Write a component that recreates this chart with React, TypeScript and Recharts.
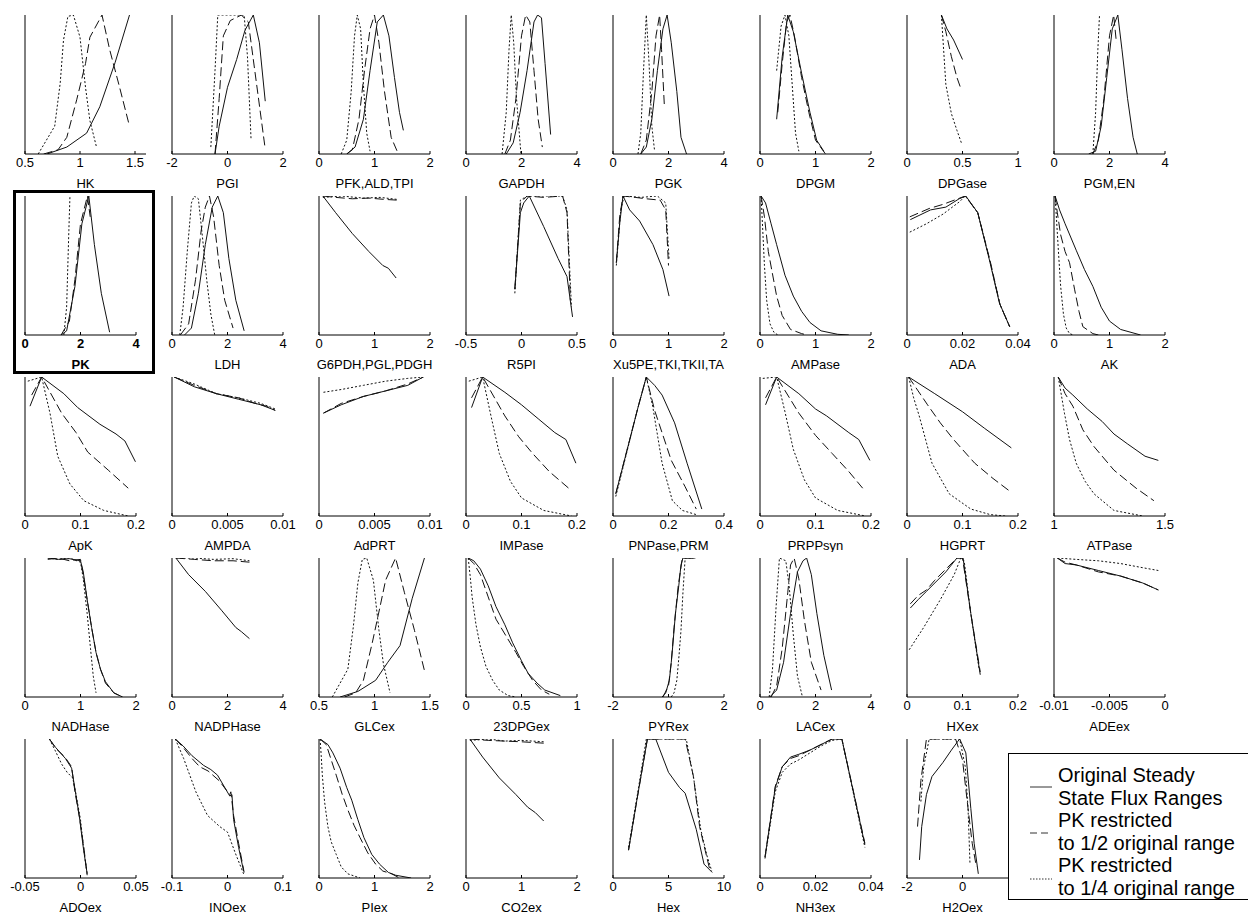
import React from "react";
import { LineChart, Line, XAxis, YAxis } from "recharts";

type Pt = [number, number];

// 39 flux panels, read row by row (8 per row)
const panelNames = [
  "HK", "PGI", "PFK,ALD,TPI", "GAPDH", "PGK", "DPGM", "DPGase", "PGM,EN",
  "PK", "LDH", "G6PDH,PGL,PDGH", "R5PI", "Xu5PE,TKI,TKII,TA", "AMPase", "ADA", "AK",
  "ApK", "AMPDA", "AdPRT", "IMPase", "PNPase,PRM", "PRPPsyn", "HGPRT", "ATPase",
  "NADHase", "NADPHase", "GLCex", "23DPGex", "PYRex", "LACex", "HXex", "ADEex",
  "ADOex", "INOex", "PIex", "CO2ex", "Hex", "NH3ex", "H2Oex",
];

const xDomains: [number, number][] = [
  [0.5, 1.6], [-2, 2], [0, 2], [0, 4], [0, 4], [0, 2], [0, 1], [0, 4],
  [0, 4], [0, 4], [0, 2], [-0.5, 0.5], [0, 2], [0, 2], [0, 0.04], [0, 2],
  [0, 0.2], [0, 0.01], [0, 0.01], [0, 0.2], [0, 0.4], [0, 0.2], [0, 0.2], [1, 1.5],
  [0, 2], [0, 4], [0.5, 1.5], [0, 1], [-2, 2], [0, 4], [0, 0.2], [-0.01, 0],
  [-0.05, 0.05], [-0.1, 0.1], [0, 2], [0, 2], [0, 10], [0, 0.04], [-2, 2],
];

const xTicks: number[][] = [
  [0.5, 1, 1.5], [-2, 0, 2], [0, 1, 2], [0, 2, 4], [0, 2, 4], [0, 1, 2], [0, 0.5, 1], [0, 2, 4],
  [0, 2, 4], [0, 2, 4], [0, 1, 2], [-0.5, 0, 0.5], [0, 1, 2], [0, 1, 2], [0, 0.02, 0.04], [0, 1, 2],
  [0, 0.1, 0.2], [0, 0.005, 0.01], [0, 0.005, 0.01], [0, 0.1, 0.2], [0, 0.2, 0.4], [0, 0.1, 0.2], [0, 0.1, 0.2], [1, 1.5],
  [0, 1, 2], [0, 2, 4], [0.5, 1, 1.5], [0, 0.5, 1], [-2, 0, 2], [0, 2, 4], [0, 0.1, 0.2], [-0.01, -0.005, 0],
  [-0.05, 0, 0.05], [-0.1, 0, 0.1], [0, 1, 2], [0, 1, 2], [0, 5, 10], [0, 0.02, 0.04], [-2, 0, 2],
];

// original steady state flux ranges
const solidLines: Pt[][] = [
  [[0.7, 0], [0.88, 0.05], [1.06, 0.15], [1.18, 0.34], [1.32, 0.66], [1.45, 1]],
  [[-0.45, 0], [-0.3, 0.2], [0, 0.48], [0.33, 0.68], [0.63, 0.89], [0.93, 1], [1.15, 0.8], [1.36, 0.38]],
  [[0.5, 0], [0.65, 0.05], [0.8, 0.25], [0.92, 0.6], [1.05, 0.95], [1.16, 1], [1.26, 0.85], [1.36, 0.55], [1.45, 0.3], [1.52, 0.17]],
  [[1.45, 0], [1.7, 0.08], [1.95, 0.3], [2.2, 0.6], [2.45, 0.95], [2.58, 1], [2.72, 0.98], [2.85, 0.65], [3.05, 0.14]],
  [[1.0, 0], [1.2, 0.05], [1.4, 0.25], [1.6, 0.6], [1.8, 0.9], [1.95, 1], [2.1, 0.8], [2.3, 0.45], [2.45, 0.12], [2.65, 0]],
  [[0.3, 0.25], [0.4, 0.7], [0.5, 1], [0.6, 0.88], [0.75, 0.58], [0.9, 0.3], [1.02, 0.1], [1.15, 0.02]],
  [[0.31, 1], [0.36, 0.9], [0.42, 0.82], [0.5, 0.68]],
  [[1.25, 0], [1.5, 0.02], [1.7, 0.2], [1.9, 0.55], [2.1, 0.9], [2.3, 1], [2.45, 0.75], [2.65, 0.4], [2.85, 0.12], [3.0, 0]],
  [[1.3, 0], [1.5, 0.03], [1.8, 0.35], [2.05, 0.8], [2.3, 1], [2.5, 0.65], [2.75, 0.3], [3.05, 0.02]],
  [[0.45, 0], [0.7, 0.05], [0.95, 0.3], [1.2, 0.65], [1.45, 0.92], [1.65, 1], [1.85, 0.88], [2.05, 0.55], [2.3, 0.25], [2.6, 0.03]],
  [[0.07, 1], [0.3, 0.88], [0.6, 0.73], [0.9, 0.6], [1.15, 0.5], [1.25, 0.48], [1.39, 0.41]],
  [[-0.06, 0.33], [-0.01, 0.88], [0.02, 0.95], [0.07, 1], [0.2, 0.78], [0.33, 0.55], [0.41, 0.42], [0.46, 0.13]],
  [[0.06, 0.52], [0.12, 0.8], [0.18, 1], [0.3, 0.9], [0.48, 0.82], [0.72, 0.65], [0.9, 0.47], [1.01, 0.28]],
  [[0.02, 1], [0.1, 0.95], [0.2, 0.8], [0.3, 0.65], [0.45, 0.43], [0.6, 0.28], [0.75, 0.17], [0.9, 0.09], [1.1, 0.03], [1.4, 0.005], [1.6, 0]],
  [[0.0012, 0.83], [0.0085, 0.9], [0.014, 0.92], [0.0188, 0.98], [0.0212, 1], [0.0255, 0.88], [0.0297, 0.54], [0.0333, 0.23], [0.037, 0.06]],
  [[0.02, 1], [0.1, 0.9], [0.2, 0.8], [0.4, 0.61], [0.55, 0.47], [0.7, 0.35], [0.85, 0.2], [1.0, 0.1], [1.2, 0.04], [1.56, 0]],
  [[0.009, 0.79], [0.03, 1], [0.07, 0.88], [0.095, 0.78], [0.135, 0.66], [0.164, 0.59], [0.18, 0.54], [0.199, 0.39]],
  [[0.0002, 1], [0.002, 0.93], [0.004, 0.88], [0.006, 0.84], [0.008, 0.8], [0.0093, 0.76]],
  [[0.0004, 0.74], [0.002, 0.8], [0.004, 0.86], [0.006, 0.9], [0.008, 0.94], [0.0094, 1]],
  [[0.01, 0.78], [0.03, 1], [0.07, 0.89], [0.1, 0.8], [0.13, 0.7], [0.16, 0.6], [0.18, 0.55], [0.198, 0.38]],
  [[0.01, 0.16], [0.05, 0.47], [0.09, 0.78], [0.12, 1], [0.15, 0.94], [0.177, 0.87], [0.222, 0.67], [0.267, 0.38], [0.32, 0.05]],
  [[0.01, 0.8], [0.03, 1], [0.07, 0.88], [0.1, 0.77], [0.12, 0.72], [0.16, 0.6], [0.178, 0.55], [0.198, 0.4]],
  [[0.003, 1], [0.05, 0.88], [0.1, 0.75], [0.14, 0.63], [0.188, 0.49]],
  [[1.019, 1], [1.05, 0.92], [1.085, 0.87], [1.15, 0.77], [1.217, 0.68], [1.27, 0.59], [1.33, 0.52], [1.41, 0.43], [1.47, 0.4]],
  [[0.41, 1], [0.6, 0.99], [0.8, 0.995], [1.0, 0.98], [1.05, 0.9], [1.12, 0.7], [1.2, 0.5], [1.28, 0.32], [1.36, 0.2], [1.45, 0.11], [1.6, 0.03], [1.76, 0]],
  [[0.14, 1], [0.6, 0.88], [1.2, 0.76], [1.8, 0.62], [2.3, 0.5], [2.5, 0.47], [2.79, 0.42]],
  [[0.69, 0], [0.85, 0.04], [1.01, 0.12], [1.12, 0.25], [1.23, 0.37], [1.34, 0.71], [1.45, 1]],
  [[0.02, 1], [0.07, 0.98], [0.13, 0.92], [0.2, 0.8], [0.27, 0.65], [0.35, 0.52], [0.42, 0.39], [0.5, 0.26], [0.56, 0.17], [0.64, 0.1], [0.71, 0.05], [0.85, 0.01]],
  [[-0.23, 0], [-0.1, 0.03], [0.03, 0.12], [0.1, 0.25], [0.15, 0.36], [0.25, 0.6], [0.37, 0.8], [0.45, 0.95], [0.52, 1], [0.97, 1]],
  [[0.35, 0], [0.6, 0.05], [0.85, 0.25], [1.1, 0.6], [1.35, 0.9], [1.55, 0.98], [1.68, 1], [1.85, 0.88], [2.05, 0.6], [2.3, 0.3], [2.58, 0.05]],
  [[0.006, 0.64], [0.02, 0.7], [0.035, 0.76], [0.05, 0.82], [0.07, 0.9], [0.09, 1], [0.101, 1], [0.115, 0.6], [0.132, 0.16]],
  [[-0.0097, 1], [-0.009, 0.96], [-0.008, 0.95], [-0.006, 0.91], [-0.004, 0.87], [-0.002, 0.82], [-0.0006, 0.77]],
  [[-0.028, 1], [-0.0225, 0.94], [-0.0136, 0.86], [-0.008, 0.79], [-0.0046, 0.62], [-0.001, 0.44], [0.0025, 0.22], [0.006, 0.03]],
  [[-0.094, 1], [-0.08, 0.95], [-0.064, 0.88], [-0.043, 0.81], [-0.03, 0.78], [-0.018, 0.74], [0.004, 0.59], [0.008, 0.6], [0.011, 0.42], [0.02, 0.22], [0.029, 0.05]],
  [[0.02, 1], [0.16, 0.96], [0.25, 0.9], [0.38, 0.79], [0.5, 0.65], [0.59, 0.56], [0.7, 0.42], [0.81, 0.29], [0.95, 0.17], [1.09, 0.1], [1.25, 0.04], [1.38, 0.02], [1.66, 0]],
  [[0.07, 1], [0.3, 0.87], [0.6, 0.72], [0.9, 0.6], [1.11, 0.51], [1.25, 0.47], [1.4, 0.41]],
  [[1.4, 0.2], [2.15, 0.56], [3.1, 1], [3.85, 1], [5.0, 0.76], [6.0, 0.65], [6.5, 0.61], [7.5, 0.35], [8.2, 0.1], [8.94, 0.04]],
  [[0.0018, 0.15], [0.0055, 0.65], [0.008, 0.8], [0.011, 0.87], [0.014, 0.89], [0.018, 0.92], [0.022, 0.96], [0.026, 1], [0.0295, 1], [0.0378, 0.24]],
  [[-1.55, 0.13], [-1.47, 0.37], [-1.3, 0.6], [-1.1, 0.73], [-0.71, 0.83], [-0.4, 0.92], [-0.18, 0.98], [-0.1, 1], [0.12, 0.9], [0.3, 0.5], [0.42, 0.25], [0.57, 0.03]],
];

// PK restricted to 1/2 original range
const dashedLines: Pt[][] = [
  [[0.67, 0], [0.8, 0.03], [0.88, 0.12], [0.97, 0.39], [1.05, 0.65], [1.09, 0.84], [1.2, 1], [1.27, 0.75], [1.36, 0.48], [1.45, 0.2]],
  [[-0.45, 0], [-0.3, 0.4], [-0.15, 0.85], [0.1, 0.96], [0.5, 1], [0.75, 0.95], [1.05, 0.5], [1.35, 0.05]],
  [[0.5, 0], [0.6, 0.03], [0.72, 0.25], [0.82, 0.6], [0.92, 0.9], [1.0, 1], [1.08, 0.8], [1.18, 0.45], [1.3, 0.12], [1.43, 0]],
  [[1.4, 0], [1.6, 0.1], [1.8, 0.4], [2.0, 0.85], [2.15, 1], [2.3, 0.95], [2.45, 0.6], [2.6, 0.25], [2.75, 0.05]],
  [[1.0, 0], [1.2, 0.1], [1.4, 0.45], [1.55, 0.85], [1.68, 1], [1.75, 0.75], [1.85, 0.35]],
  [[0.32, 0.3], [0.4, 0.65], [0.48, 0.95], [0.54, 1], [0.62, 0.85], [0.75, 0.55], [0.88, 0.3], [1.0, 0.1], [1.18, 0]],
  [[0.31, 1], [0.35, 0.88], [0.4, 0.7], [0.45, 0.55], [0.49, 0.46]],
  [[1.4, 0], [1.6, 0.1], [1.8, 0.4], [2.0, 0.85], [2.15, 1], [2.25, 0.8]],
  [[1.3, 0], [1.6, 0.1], [1.8, 0.4], [2.0, 0.8], [2.25, 1], [2.35, 0.85]],
  [[0.3, 0], [0.6, 0.08], [0.85, 0.4], [1.05, 0.75], [1.2, 0.92], [1.35, 1], [1.5, 0.85], [1.7, 0.5], [1.9, 0.25], [2.2, 0.05]],
  [[0.07, 1], [0.3, 0.99], [0.6, 0.98], [0.9, 0.985], [1.2, 0.975], [1.42, 0.97]],
  [[-0.06, 0.33], [-0.01, 0.95], [0.05, 1], [0.2, 0.99], [0.37, 1], [0.41, 0.88], [0.44, 0.25]],
  [[0.06, 0.52], [0.12, 0.85], [0.18, 1], [0.4, 0.99], [0.6, 0.98], [0.85, 0.97], [0.95, 0.9], [1.0, 0.5]],
  [[0.02, 1], [0.08, 0.85], [0.15, 0.6], [0.22, 0.45], [0.3, 0.28], [0.4, 0.14], [0.55, 0.04], [0.75, 0.01], [0.85, 0]],
  [[0.001, 0.85], [0.008, 0.91], [0.013, 0.94], [0.019, 0.985], [0.021, 1], [0.0255, 0.88], [0.03, 0.53], [0.0335, 0.22], [0.037, 0.06]],
  [[0.02, 1], [0.06, 0.88], [0.12, 0.72], [0.2, 0.6], [0.28, 0.52], [0.37, 0.33], [0.45, 0.17], [0.52, 0.06], [0.7, 0.01], [0.8, 0]],
  [[0.012, 0.87], [0.03, 1], [0.066, 0.74], [0.092, 0.6], [0.113, 0.46], [0.15, 0.33], [0.186, 0.2]],
  [[0.0002, 1], [0.002, 0.94], [0.004, 0.88], [0.006, 0.85], [0.0075, 0.81], [0.0085, 0.79], [0.0093, 0.76]],
  [[0.0004, 0.74], [0.002, 0.81], [0.004, 0.86], [0.006, 0.9], [0.008, 0.95], [0.0094, 1]],
  [[0.01, 0.85], [0.03, 1], [0.07, 0.72], [0.095, 0.57], [0.12, 0.45], [0.15, 0.32], [0.185, 0.2]],
  [[0.01, 0.16], [0.05, 0.47], [0.09, 0.78], [0.12, 1], [0.15, 0.76], [0.21, 0.4], [0.26, 0.21], [0.3, 0.05]],
  [[0.01, 0.85], [0.03, 1], [0.07, 0.74], [0.1, 0.58], [0.13, 0.45], [0.16, 0.32], [0.185, 0.2]],
  [[0.003, 1], [0.02, 0.9], [0.037, 0.8], [0.06, 0.67], [0.084, 0.55], [0.122, 0.38], [0.155, 0.27], [0.188, 0.17]],
  [[1.019, 1], [1.05, 0.88], [1.085, 0.79], [1.13, 0.62], [1.18, 0.5], [1.27, 0.33], [1.37, 0.2], [1.45, 0.11]],
  [[0.41, 0.99], [0.6, 1], [0.8, 0.98], [1.0, 0.99], [1.05, 0.88], [1.12, 0.7], [1.2, 0.5], [1.28, 0.32], [1.36, 0.2], [1.45, 0.1], [1.6, 0.03], [1.75, 0]],
  [[0.14, 1], [0.8, 0.99], [1.5, 0.98], [2.2, 0.98], [2.79, 0.97]],
  [[0.73, 0], [0.83, 0.03], [0.9, 0.12], [0.98, 0.39], [1.05, 0.65], [1.1, 0.84], [1.19, 1], [1.27, 0.75], [1.36, 0.48], [1.45, 0.19]],
  [[0.02, 1], [0.07, 0.96], [0.13, 0.88], [0.2, 0.72], [0.27, 0.56], [0.36, 0.44], [0.45, 0.32], [0.52, 0.22], [0.6, 0.12], [0.68, 0.05], [0.75, 0.02]],
  [[-0.2, 0], [0, 0.08], [0.1, 0.25], [0.2, 0.5], [0.35, 0.8], [0.5, 1], [0.95, 1]],
  [[0.4, 0], [0.6, 0.08], [0.8, 0.35], [1.0, 0.75], [1.1, 0.95], [1.23, 1], [1.4, 0.85], [1.6, 0.55], [1.85, 0.25], [2.2, 0.05]],
  [[0.006, 0.67], [0.02, 0.73], [0.035, 0.77], [0.05, 0.84], [0.07, 0.92], [0.09, 1], [0.1, 1], [0.115, 0.6], [0.132, 0.18]],
  [[-0.0097, 1], [-0.009, 0.97], [-0.008, 0.95], [-0.006, 0.9], [-0.004, 0.87], [-0.002, 0.82], [-0.0006, 0.77]],
  [[-0.028, 1], [-0.022, 0.93], [-0.014, 0.87], [-0.008, 0.8], [-0.005, 0.62], [-0.001, 0.44], [0.003, 0.22], [0.006, 0.02]],
  [[-0.094, 1], [-0.08, 0.94], [-0.064, 0.86], [-0.05, 0.8], [-0.035, 0.77], [-0.015, 0.7], [0.004, 0.6], [0.006, 0.62], [0.011, 0.45], [0.02, 0.25], [0.03, 0.04]],
  [[0.02, 1], [0.13, 0.96], [0.22, 0.85], [0.31, 0.74], [0.42, 0.6], [0.52, 0.49], [0.63, 0.38], [0.74, 0.29], [0.88, 0.18], [1.02, 0.1], [1.15, 0.05], [1.31, 0.03], [1.45, 0]],
  [[0.07, 1], [0.4, 0.99], [0.7, 0.985], [1.0, 0.98], [1.2, 0.975], [1.4, 0.97]],
  [[1.4, 0.2], [2.15, 0.56], [3.1, 1], [5.0, 1], [6.5, 1], [7.25, 0.73], [7.8, 0.37], [8.3, 0.2], [8.75, 0.05]],
  [[0.0018, 0.15], [0.0055, 0.66], [0.008, 0.8], [0.011, 0.86], [0.014, 0.88], [0.018, 0.92], [0.022, 0.96], [0.026, 1], [0.0295, 1], [0.0378, 0.25]],
  [[-1.62, 0.37], [-1.5, 0.7], [-1.3, 1], [-0.8, 1], [-0.25, 1], [0.0, 0.85], [0.2, 0.5], [0.35, 0.25], [0.5, 0.08]],
];

// PK restricted to 1/4 original range
const dottedLines: Pt[][] = [
  [[0.62, 0], [0.77, 0.2], [0.82, 0.51], [0.85, 0.82], [0.89, 0.99], [0.94, 1], [1.0, 0.84], [1.05, 0.48], [1.09, 0.24], [1.15, 0.05]],
  [[-0.6, 0.05], [-0.45, 0.6], [-0.35, 1], [0.0, 1], [0.6, 1], [0.72, 0.7], [0.85, 0.1]],
  [[0.4, 0], [0.5, 0.1], [0.58, 0.45], [0.64, 0.85], [0.69, 1], [0.75, 0.9], [0.8, 0.5], [0.86, 0.15], [0.92, 0.02]],
  [[1.3, 0], [1.45, 0.3], [1.55, 0.75], [1.63, 1], [1.72, 0.8], [1.82, 0.4], [1.98, 0]],
  [[0.9, 0], [1.0, 0.15], [1.1, 0.6], [1.2, 1], [1.3, 0.65], [1.4, 0.2], [1.5, 0.02]],
  [[0.3, 0.6], [0.38, 0.92], [0.45, 1], [0.52, 0.85], [0.58, 0.5], [0.64, 0.15], [0.7, 0.02]],
  [[0.31, 1], [0.33, 0.75], [0.35, 0.5], [0.4, 0.29], [0.45, 0.17], [0.49, 0.08]],
  [[1.4, 0], [1.5, 0.3], [1.58, 0.75], [1.64, 1]],
  [[1.4, 0], [1.5, 0.2], [1.58, 0.75], [1.62, 1]],
  [[0.28, 0], [0.4, 0.2], [0.55, 0.6], [0.7, 0.95], [0.8, 1], [0.95, 0.98], [1.1, 0.7], [1.25, 0.4], [1.4, 0.15], [1.54, 0]],
  [[0.07, 0.99], [0.4, 1], [0.8, 0.985], [1.1, 0.99], [1.42, 0.975]],
  [[-0.06, 0.3], [-0.01, 0.97], [0.05, 1], [0.2, 1], [0.37, 1], [0.41, 0.9], [0.45, 0.2]],
  [[0.06, 0.5], [0.14, 0.9], [0.2, 1], [0.5, 0.99], [0.8, 1], [0.95, 0.95], [1.01, 0.55]],
  [[0.02, 1], [0.05, 0.75], [0.08, 0.5], [0.12, 0.25], [0.18, 0.08], [0.25, 0.02], [0.32, 0]],
  [[0.001, 0.74], [0.007, 0.8], [0.013, 0.87], [0.019, 0.96], [0.021, 1], [0.0255, 0.88], [0.03, 0.52], [0.0335, 0.22], [0.037, 0.06]],
  [[0.02, 1], [0.05, 0.8], [0.08, 0.6], [0.12, 0.35], [0.17, 0.15], [0.22, 0.05], [0.28, 0.01], [0.35, 0]],
  [[0.005, 0.97], [0.03, 1], [0.045, 0.74], [0.059, 0.43], [0.081, 0.23], [0.106, 0.11], [0.142, 0.04], [0.186, 0]],
  [[0.0002, 1], [0.002, 0.95], [0.004, 0.88], [0.006, 0.85], [0.008, 0.81], [0.0093, 0.77]],
  [[0.0004, 0.89], [0.002, 0.91], [0.004, 0.94], [0.006, 0.97], [0.008, 0.99], [0.0094, 1]],
  [[0.005, 0.97], [0.03, 1], [0.045, 0.72], [0.06, 0.45], [0.08, 0.25], [0.1, 0.13], [0.14, 0.04], [0.19, 0]],
  [[0.01, 0.14], [0.05, 0.46], [0.09, 0.78], [0.12, 1], [0.143, 0.79], [0.177, 0.38], [0.214, 0.11], [0.25, 0.04], [0.3, 0.01]],
  [[0.005, 0.99], [0.03, 1], [0.045, 0.75], [0.06, 0.48], [0.08, 0.26], [0.1, 0.13], [0.14, 0.04], [0.19, 0]],
  [[0.003, 1], [0.012, 0.85], [0.022, 0.72], [0.045, 0.38], [0.076, 0.16], [0.115, 0.05], [0.15, 0.01], [0.177, 0]],
  [[1.019, 1], [1.03, 0.9], [1.047, 0.74], [1.07, 0.55], [1.1, 0.38], [1.14, 0.25], [1.18, 0.16], [1.27, 0.04], [1.4, 0]],
  [[0.41, 1], [0.6, 0.99], [0.8, 1], [1.0, 0.97], [1.05, 0.85], [1.12, 0.6], [1.18, 0.35], [1.23, 0.15], [1.28, 0.03]],
  [[0.14, 1], [0.8, 1], [1.5, 0.99], [2.2, 0.995], [2.79, 0.98]],
  [[0.62, 0], [0.76, 0.2], [0.81, 0.51], [0.85, 0.82], [0.89, 0.99], [0.93, 1], [0.99, 0.84], [1.04, 0.48], [1.08, 0.24], [1.14, 0.03]],
  [[0.02, 1], [0.04, 0.85], [0.055, 0.72], [0.09, 0.52], [0.13, 0.36], [0.18, 0.22], [0.24, 0.12], [0.3, 0.05], [0.38, 0.01], [0.45, 0]],
  [[0.1, 0], [0.2, 0.03], [0.3, 0.12], [0.38, 0.3], [0.45, 0.48], [0.52, 0.75], [0.6, 1], [0.9, 1]],
  [[0.33, 0], [0.45, 0.2], [0.58, 0.65], [0.7, 1], [0.93, 0.98], [1.05, 0.8], [1.2, 0.45], [1.35, 0.15], [1.53, 0]],
  [[0.004, 0.34], [0.03, 0.5], [0.06, 0.7], [0.085, 0.88], [0.097, 1], [0.103, 0.98], [0.115, 0.6], [0.13, 0.2]],
  [[-0.0097, 1], [-0.008, 0.99], [-0.006, 0.98], [-0.004, 0.96], [-0.002, 0.93], [-0.0006, 0.91]],
  [[-0.028, 1], [-0.023, 0.92], [-0.017, 0.82], [-0.012, 0.76], [-0.007, 0.72], [-0.004, 0.6], [0, 0.42], [0.003, 0.2], [0.006, 0.03]],
  [[-0.094, 1], [-0.079, 0.86], [-0.057, 0.62], [-0.036, 0.45], [-0.014, 0.37], [0, 0.33], [0.014, 0.18], [0.029, 0.03]],
  [[0.02, 1], [0.04, 0.88], [0.06, 0.74], [0.1, 0.55], [0.16, 0.37], [0.22, 0.26], [0.31, 0.17], [0.4, 0.08], [0.52, 0.03], [0.74, 0]],
  [[0.07, 0.99], [0.4, 1], [0.7, 0.985], [1.0, 0.99], [1.2, 0.985], [1.4, 0.98]],
  [[1.4, 0.22], [2.2, 0.6], [3.0, 1], [5.0, 1], [6.6, 1], [7.3, 0.7], [7.9, 0.35], [8.5, 0.15], [8.9, 0.05]],
  [[0.0018, 0.14], [0.0055, 0.62], [0.008, 0.76], [0.011, 0.82], [0.014, 0.85], [0.018, 0.9], [0.022, 0.95], [0.026, 0.99], [0.0295, 1], [0.0378, 0.22]],
  [[-1.5, 0.55], [-1.4, 0.8], [-1.2, 1], [-0.6, 1], [-0.1, 1], [0.1, 0.8], [0.2, 0.5], [0.27, 0.1]],
];

const legendLabels = [
  ["Original Steady", "State Flux Ranges"],
  ["PK restricted", "to 1/2 original range"],
  ["PK restricted", "to 1/4 original range"],
];

const COL_X = [25, 172, 319, 466, 613, 760, 907, 1054];
const ROW_Y = [15, 196, 377, 558, 739];
const PLOT_H = 139;
const PLOT_W = 111;
const M = { top: 4, right: 22, bottom: 0, left: 22 };
const AXIS_H = 36;
const FONT = "'Liberation Sans', Arial, sans-serif";
const INK = "#111";

const toPts = (a: Pt[]) => a.map(([x, y]) => ({ x, y }));
const fmt = (v: number) => String(v);

function Panel({ i }: { i: number }) {
  const col = i % 8;
  const row = Math.floor(i / 8);
  const w = i === 0 ? 121 : PLOT_W;
  const weight = panelNames[i] === "PK" ? 700 : 400;
  const chartW = M.left + 1 + w + M.right;
  const chartH = M.top + PLOT_H + AXIS_H;
  return (
    <div style={{ position: "absolute", left: COL_X[col] - 8 - M.left - 1, top: ROW_Y[row] - 8 - M.top }}>
      <LineChart width={chartW} height={chartH} margin={M}>
        <XAxis
          type="number"
          dataKey="x"
          domain={xDomains[i]}
          ticks={xTicks[i]}
          allowDataOverflow
          interval={0}
          tickSize={-3}
          tickMargin={7}
          height={AXIS_H}
          stroke="#000"
          tickFormatter={fmt}
          tick={{ fill: "#000", fontSize: 13, fontWeight: weight }}
          label={{ value: panelNames[i], position: "insideBottom", offset: 2, fill: "#000", fontSize: 13, fontWeight: weight }}
        />
        <YAxis type="number" domain={[0, 1]} allowDataOverflow tick={false} tickLine={false} width={1} stroke="#000" />
        <Line data={toPts(solidLines[i])} dataKey="y" type="linear" dot={false} stroke={INK} strokeWidth={1} isAnimationActive={false} />
        <Line data={toPts(dashedLines[i])} dataKey="y" type="linear" dot={false} stroke={INK} strokeWidth={1} strokeDasharray="9 4" isAnimationActive={false} />
        <Line data={toPts(dottedLines[i])} dataKey="y" type="linear" dot={false} stroke={INK} strokeWidth={1} strokeDasharray="2 2" isAnimationActive={false} />
      </LineChart>
    </div>
  );
}

function Legend() {
  const dashes = ["none", "7 4", "1.5 1.5"];
  const markY = [33, 79, 125];
  return (
    <div
      style={{
        position: "absolute", left: 1008 - 8, top: 753 - 8, width: 244, height: 147,
        border: "1px solid #000", boxSizing: "border-box", background: "#fff",
      }}
    >
      <svg width={60} height={145} style={{ position: "absolute", left: 0, top: 0 }}>
        {dashes.map((d, k) => (
          <line key={k} x1={21} x2={43} y1={markY[k]} y2={markY[k]} stroke="#333" strokeWidth={1} strokeDasharray={d} />
        ))}
      </svg>
      <div style={{ position: "absolute", left: 49, top: 10, fontSize: 20, lineHeight: "22.6px", color: "#000", whiteSpace: "nowrap" }}>
        {legendLabels.flat().map((t, k) => (
          <div key={k}>{t}</div>
        ))}
      </div>
    </div>
  );
}

export default function App() {
  return (
    <div style={{ position: "relative", width: 1248, height: 907, fontFamily: FONT, background: "#fff" }}>
      {panelNames.map((_, i) => (
        <Panel key={i} i={i} />
      ))}
      <div
        style={{
          position: "absolute", left: 13 - 8, top: 190 - 8, width: 142, height: 184,
          border: "3px solid #000", boxSizing: "border-box",
        }}
      />
      <Legend />
    </div>
  );
}
